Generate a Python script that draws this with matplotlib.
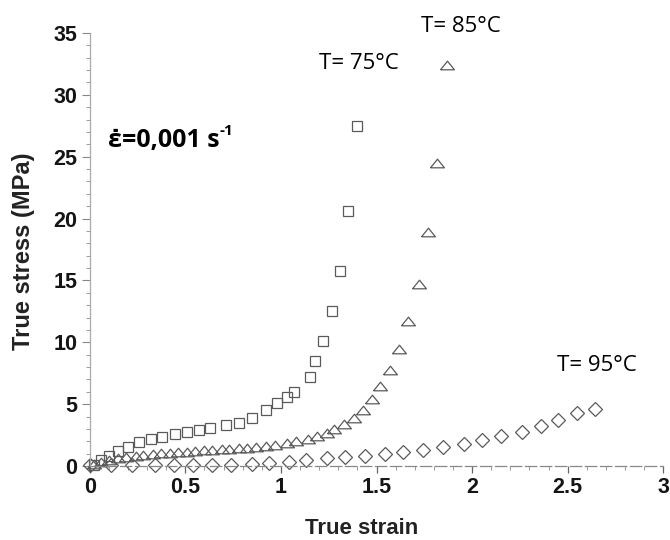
import matplotlib
matplotlib.use("Agg")
import matplotlib.pyplot as plt
from matplotlib.ticker import MultipleLocator

# T = 75 °C (squares)
strain_75 = [0.02, 0.06, 0.10, 0.15, 0.20, 0.26, 0.32, 0.38, 0.445, 0.51, 0.57, 0.63,
             0.71, 0.78, 0.85, 0.92, 0.98, 1.03, 1.07, 1.15, 1.18, 1.22, 1.265, 1.31,
             1.35, 1.40]
stress_75 = [0.1, 0.45, 0.8, 1.2, 1.55, 1.95, 2.15, 2.35, 2.6, 2.75, 2.9, 3.05,
             3.3, 3.5, 3.85, 4.5, 5.1, 5.6, 6.0, 7.2, 8.45, 10.1, 12.5, 15.8,
             20.6, 27.5]

# T = 85 °C (triangles)
strain_85 = [0.02, 0.06, 0.10, 0.15, 0.19, 0.24, 0.28, 0.33, 0.37, 0.42, 0.46, 0.51,
             0.55, 0.60, 0.64, 0.69, 0.73, 0.78, 0.82, 0.87, 0.92, 0.97, 1.03, 1.08,
             1.14, 1.19, 1.24, 1.28, 1.33, 1.38, 1.43, 1.475, 1.52, 1.57, 1.62, 1.667,
             1.72, 1.77, 1.815, 1.867]
stress_85 = [0.15, 0.35, 0.5, 0.62, 0.72, 0.8, 0.88, 0.95, 1.02, 1.08, 1.12, 1.17,
             1.22, 1.27, 1.31, 1.35, 1.4, 1.44, 1.48, 1.5, 1.6, 1.72, 1.87, 2.0,
             2.2, 2.4, 2.7, 3.0, 3.4, 3.9, 4.5, 5.4, 6.5, 7.8, 9.45, 11.7,
             14.75, 18.9, 24.5, 32.4]

# T = 95 °C (diamonds)
strain_95 = [0.0, 0.11, 0.22, 0.34, 0.44, 0.54, 0.64, 0.74, 0.85, 0.94, 1.04, 1.13,
             1.24, 1.335, 1.44, 1.545, 1.64, 1.745, 1.85, 1.955, 2.05, 2.15, 2.26,
             2.36, 2.45, 2.55, 2.644]
stress_95 = [0.05, 0.1, 0.1, 0.1, 0.1, 0.1, 0.1, 0.12, 0.2, 0.25, 0.35, 0.5,
             0.62, 0.75, 0.8, 0.95, 1.16, 1.3, 1.56, 1.75, 2.1, 2.43, 2.78,
             3.24, 3.7, 4.27, 4.6]

x_ticks = [0, 0.5, 1, 1.5, 2, 2.5, 3]
x_tick_labels = ["0", "0.5", "1", "1.5", "2", "2.5", "3"]
y_ticks = [0, 5, 10, 15, 20, 25, 30, 35]

fig = plt.figure(figsize=(6.7, 5.4), dpi=100)
ax = fig.add_axes([0.134, 0.137, 0.856, 0.802])

mcol = "#5a5a5a"
flat_tri = [(-1, -0.62), (1, -0.62), (0, 0.62), (-1, -0.62)]
ax.plot(strain_75, stress_75, linestyle="none", marker="s", markersize=7.2,
        markerfacecolor="none", markeredgecolor=mcol, markeredgewidth=0.9, clip_on=False)
ax.plot(strain_85, stress_85, linestyle="none", marker=flat_tri, markersize=10,
        markerfacecolor="none", markeredgecolor=mcol, markeredgewidth=0.9, clip_on=False)
ax.plot(strain_95, stress_95, linestyle="none", marker="D", markersize=6.8,
        markerfacecolor="none", markeredgecolor=mcol, markeredgewidth=0.9, clip_on=False)

ax.set_xlim(0, 3)
ax.set_ylim(0, 35)
ax.set_xticks(x_ticks)
ax.set_xticklabels(x_tick_labels)
ax.set_yticks(y_ticks)
ax.xaxis.set_minor_locator(MultipleLocator(0.1))
ax.yaxis.set_minor_locator(MultipleLocator(1))

for s in ["top", "right"]:
    ax.spines[s].set_visible(False)
ax.spines["left"].set_color("#aaaaaa")
ax.spines["left"].set_linewidth(0.9)
ax.spines["bottom"].set_color("#888888")
ax.spines["bottom"].set_linewidth(0.9)
ax.spines["bottom"].set_linestyle((0, (9, 3)))

ax.tick_params(axis="y", which="major", direction="out", length=6, color="#888888",
               width=0.8, pad=3)
ax.tick_params(axis="x", which="major", direction="out", length=5, color="#666666",
               width=0.9, pad=3)
ax.tick_params(axis="both", which="minor", direction="out", length=3, color="#999999", width=0.7)
for lab in ax.get_xticklabels() + ax.get_yticklabels():
    lab.set_fontfamily("Liberation Sans")
    lab.set_fontweight("bold")
    lab.set_fontsize(15.5)
    lab.set_color("#151515")

fig.text(361.5 / 670, 1 - 528 / 540, "True strain", ha="center", va="center",
         fontfamily="Liberation Sans", fontweight="bold", fontsize=16, color="#222222")
fig.text(24 / 670, 1 - 251 / 540, "True stress (MPa)", ha="center", va="center",
         rotation=90, fontfamily="Liberation Sans", fontweight="bold", fontsize=17,
         color="#222222")

ann = dict(family=["Open Sans", "DejaVu Sans"], fontsize=16, color="black")
ax.text(1.94, 35.5, "T= 85°C", ha="center", va="center", clip_on=False, **ann)
ax.text(1.41, 32.5, "T= 75°C", ha="center", va="center", clip_on=False, **ann)
ax.text(2.655, 8.1, "T= 95°C", ha="center", va="center", clip_on=False, **ann)

t = ax.text(0.094, 26.3, "\u03b5\u0307=0,001 s", ha="left", va="center",
            family=["Open Sans", "DejaVu Sans"], fontweight="bold", fontsize=18, color="black")
ax.annotate("-1", xy=(1.0, 0.88), xycoords=t, ha="left", va="center",
            family=["Open Sans", "DejaVu Sans"], fontweight="bold", fontsize=11, color="black")

fig.savefig("out.png", dpi=100)
